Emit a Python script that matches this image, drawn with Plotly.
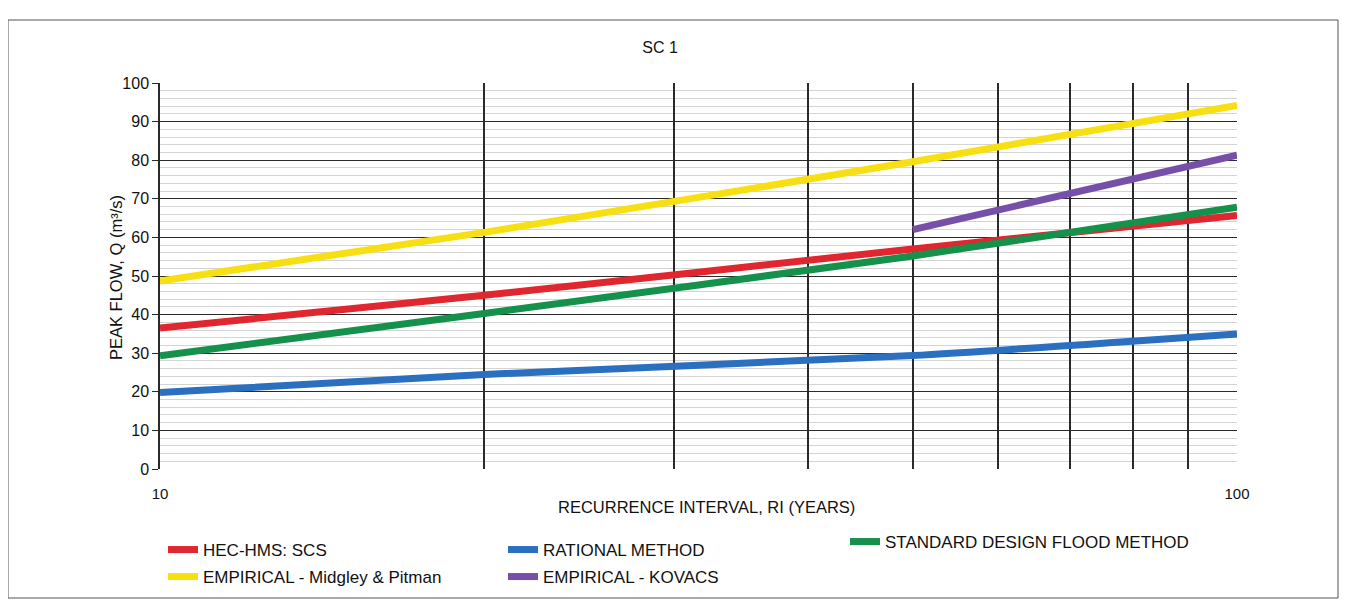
import plotly.graph_objects as go

# ---- data ----
ri = [10, 20, 50, 100]
hec_hms_scs = [36.5, 45.0, 57.0, 65.7]
rational = [19.8, 24.5, 29.4, 35.0]
sdf = [29.3, 40.3, 55.2, 67.8]
midgley_pitman = [48.7, 61.3, 79.6, 94.2]
ri_kovacs = [50, 100]
kovacs = [62.0, 81.3]

x_tickvals = [10, 20, 30, 40, 50, 60, 70, 80, 90, 100]
x_ticktext = ["10", "", "", "", "", "", "", "", "", "100"]
y_tickvals = [0, 10, 20, 30, 40, 50, 60, 70, 80, 90, 100]

series = [
    ("HEC-HMS: SCS", ri, hec_hms_scs, "#e0262f", "legend"),
    ("RATIONAL METHOD", ri, rational, "#2a6fc0", "legend"),
    ("STANDARD DESIGN FLOOD METHOD", ri, sdf, "#16914c", "legend3"),
    ("EMPIRICAL - Midgley & Pitman", ri, midgley_pitman, "#f7df12", "legend2"),
    ("EMPIRICAL - KOVACS", ri_kovacs, kovacs, "#7650a8", "legend2"),
]

OFF = 8  # page body margin
W, H = 1349 - 2 * OFF, 607 - 2 * OFF
# plot area in page pixels
L, R, T, B = 160, 1237, 83, 469

fig = go.Figure()
for name, xs, ys, col, lg in series:
    fig.add_trace(go.Scatter(
        x=xs, y=ys, name=name, mode="lines", legend=lg,
        line=dict(color=col, width=7, shape="spline", smoothing=0.6),
    ))

font_family = "Liberation Sans, Arial, sans-serif"

def px_x(p):
    return (p - L) / (R - L)

def px_y(p):
    return (B - p) / (B - T)

def cx(p):  # page px -> container fraction
    return (p - OFF) / W

def cy(p):
    return 1 - (p - OFF) / H

legend_common = dict(
    orientation="h", xanchor="left", yanchor="middle",
    xref="container", yref="container",
    font=dict(size=17, color="#111"),
    bgcolor="rgba(0,0,0,0)", borderwidth=0,
)

fig.update_layout(
    width=W, height=H,
    margin=dict(l=L - OFF, r=W - (R - OFF), t=T - OFF, b=H - (B - OFF), pad=0,
                autoexpand=False),
    paper_bgcolor="white", plot_bgcolor="white",
    font=dict(family=font_family, color="#111", size=14),
    title=dict(text="SC 1", x=cx(660), xanchor="center", xref="container",
               y=cy(47), yanchor="middle", yref="container",
               font=dict(size=16, color="#111")),
    xaxis=dict(
        type="log", range=[1, 2],
        tickvals=x_tickvals, ticktext=x_ticktext,
        showgrid=True, gridcolor="#2a2a2a", gridwidth=1.5,
        showline=False, zeroline=False, ticks="",
        ticklabelstandoff=14,
        tickfont=dict(size=15, color="#111"),
    ),
    yaxis=dict(
        range=[0, 100], tickvals=y_tickvals,
        showgrid=True, gridcolor="#2a2a2a", gridwidth=1,
        showline=True, linecolor="#2a2a2a", linewidth=1.5,
        ticks="outside", ticklen=6, tickcolor="#2a2a2a",
        zeroline=False,
        tickfont=dict(size=16, color="#111"),
        minor=dict(dtick=2, showgrid=True, gridcolor="#d4d4d4", gridwidth=1),
    ),
    showlegend=True,
    legend=dict(x=cx(163), y=cy(550), entrywidth=295, entrywidthmode="pixels",
                **legend_common),
    legend2=dict(x=cx(163), y=cy(577), entrywidth=295, entrywidthmode="pixels",
                 **legend_common),
    legend3=dict(x=cx(845), y=cy(542), **legend_common),
    shapes=[
        dict(type="rect", xref="paper", yref="paper",
             x0=px_x(8), x1=px_x(1338), y0=px_y(598), y1=px_y(20),
             line=dict(color="#555", width=1), fillcolor="rgba(0,0,0,0)",
             layer="below"),
    ],
    annotations=[
        dict(text="RECURRENCE INTERVAL, RI (YEARS)", xref="paper", yref="paper",
             x=px_x(706), y=px_y(507), xanchor="center", yanchor="middle",
             showarrow=False, font=dict(size=16.5, color="#111")),
        dict(text="PEAK FLOW, Q (m³/s)", xref="paper", yref="paper",
             x=px_x(116), y=px_y(278), xanchor="center", yanchor="middle",
             textangle=-90, showarrow=False, font=dict(size=16.5, color="#111")),
    ],
)

fig.write_html("out.html")
